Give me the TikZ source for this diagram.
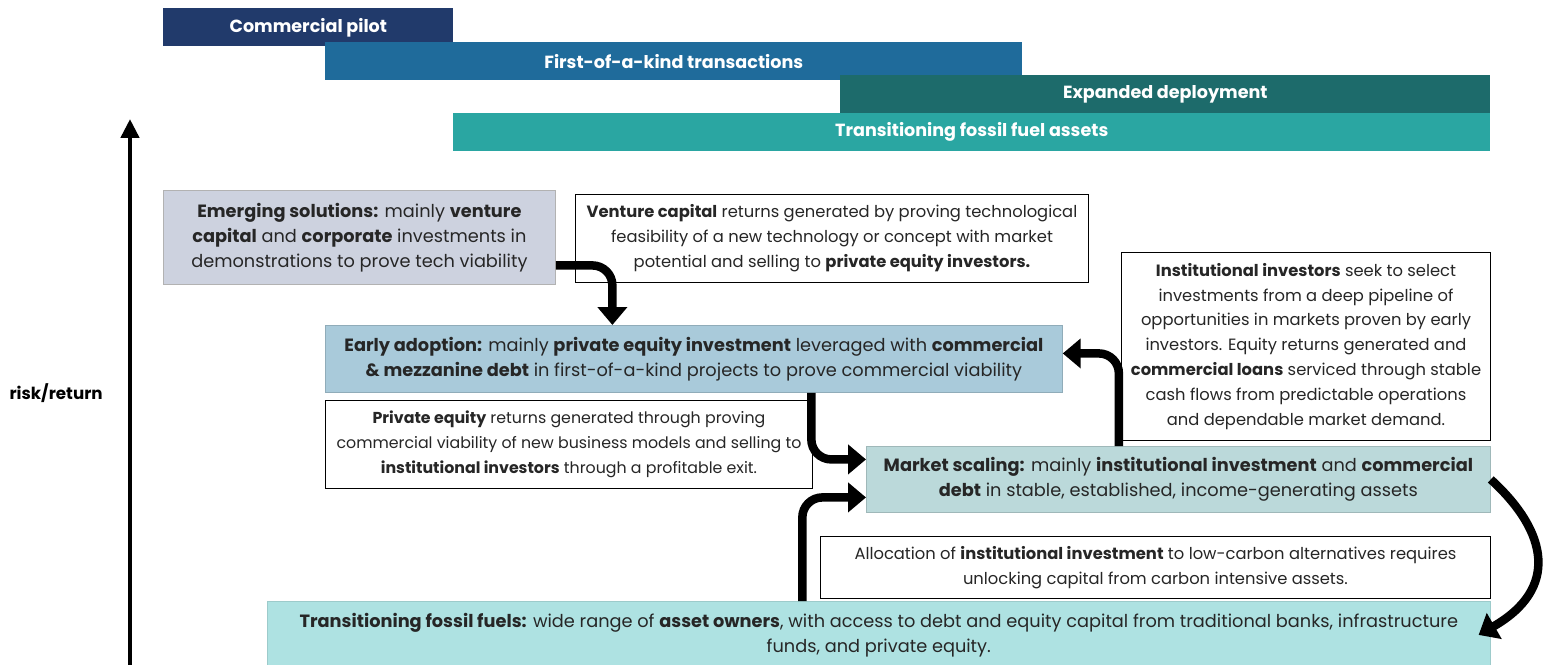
\documentclass[tikz,border=0pt]{standalone}
\usepackage{fontspec}
\setmainfont{Poppins}
\usepackage{tikz}
\usetikzlibrary{arrows.meta,positioning}
\usepackage{xcolor}
\definecolor{pilotblue}{HTML}{213A6B}
\definecolor{foakblue}{HTML}{1F6B9B}
\definecolor{deploygreen}{HTML}{1D6B6B}
\definecolor{fossilteal}{HTML}{2AA6A2}
\definecolor{emergefill}{HTML}{CDD2DF}
\definecolor{earlyfill}{HTML}{A9CADA}
\definecolor{marketfill}{HTML}{BBD9DA}
\definecolor{transfill}{HTML}{AEE2E2}
\tikzset{
  bar/.style={anchor=north west, inner sep=0pt, minimum height=7.6mm, text=white, font=\bfseries\fontsize{10}{12}\selectfont},
  stage/.style={anchor=north west, inner sep=0pt, align=center, line width=0.5pt, text=black!85, font=\fontsize{10.1}{14.2}\selectfont},
  note/.style={anchor=north west, draw=black, fill=white, inner sep=0pt, align=center, line width=0.6pt, text=black!85, font=\fontsize{9.3}{14.2}\selectfont},
  flow/.style={-{Triangle[width=5.8mm,length=3.6mm]}, line width=1.7mm, rounded corners=4mm},
  axis/.style={-{Triangle[width=3.6mm,length=3.8mm]}, line width=0.9mm}
}

\begin{document}
\begin{tikzpicture}[x=0.02cm, y=-0.02cm]
\useasboundingbox (0,0) rectangle (1551,665);
\node[bar, fill=pilotblue, minimum width=5.8cm] (pilot) at (163,8) {Commercial pilot};
\node[bar, fill=foakblue, minimum width=13.94cm] (foak) at (325,42) {First-of-a-kind transactions};
\node[bar, fill=deploygreen, minimum width=13cm] (deploy) at (840,75) {Expanded deployment};
\node[bar, fill=fossilteal, minimum width=20.74cm] (assets) at (453,113) {Transitioning fossil fuel assets};
\node[stage, draw=black!30, fill=emergefill, minimum width=7.84cm, minimum height=1.88cm] (emerging) at (163,190) {\textbf{Emerging solutions:} mainly \textbf{venture}\\ \textbf{capital} and \textbf{corporate} investments in\\ demonstrations to prove tech viability};
\node[note, minimum width=10.26cm, minimum height=1.76cm] (vcnote) at (575,194) {\textbf{Venture capital} returns generated by proving technological\\ feasibility of a new technology or concept with market\\ potential and selling to \textbf{private equity investors.}};
\node[stage, draw=earlyfill!85!black, fill=earlyfill, minimum width=14.74cm, minimum height=1.34cm] (early) at (325,325) {\textbf{Early adoption:} mainly \textbf{private equity investment} leveraged with \textbf{commercial}\\ \textbf{\& mezzanine debt} in first-of-a-kind projects to prove commercial viability};
\node[note, minimum width=9.74cm, minimum height=1.76cm, font=\fontsize{9}{14.2}\selectfont] (penote) at (325,400) {\textbf{Private equity} returns generated through proving\\ commercial viability of new business models and selling to\\ \textbf{institutional investors} through a profitable exit.};
\node[note, minimum width=7.38cm, minimum height=3.76cm] (instnote) at (1121,252) {\textbf{Institutional investors} seek to select\\ investments from a deep pipeline of\\ opportunities in markets proven by early\\ investors. Equity returns generated and\\ \textbf{commercial loans} serviced through stable\\ cash flows from predictable operations\\ and dependable market demand.};
\node[stage, draw=marketfill!85!black, fill=marketfill, minimum width=12.48cm, minimum height=1.32cm] (market) at (866,446) {\textbf{Market scaling:} mainly \textbf{institutional investment} and \textbf{commercial}\\ \textbf{debt} in stable, established, income-generating assets};
\node[note, minimum width=13.4cm, minimum height=1.24cm] (allocnote) at (820,536) {Allocation of \textbf{institutional investment} to low-carbon alternatives requires\\ unlocking capital from carbon intensive assets.};
\node[stage, draw=transfill!90!black, fill=transfill, minimum width=24.46cm, minimum height=1.34cm] (fossil) at (267,601) {\textbf{Transitioning fossil fuels:} wide range of \textbf{asset owners}, with access to debt and equity capital from traditional banks, infrastructure\\ funds, and private equity.};
\coordinate (axisbottom) at (130,668);
\coordinate (axistop) at (130,119);
\node[anchor=east, inner sep=0pt, font=\bfseries\fontsize{9.5}{12}\selectfont] (risk) at (103,393) {risk/return};
\draw[axis] (axisbottom) -- (axistop);
\draw[flow] ([yshift=-0.56cm]emerging.east) -| ([xshift=-1.63cm]early.north);
\draw[flow] ([xshift=2.35cm]early.south) |- ([yshift=0.4cm]market.west);
\draw[flow] ([xshift=-1.53cm]fossil.north) |- ([yshift=-0.36cm]market.west);
\draw[flow] ([xshift=-1.19cm]market.north) |- ([yshift=0.11cm]early.east);
\draw[flow, rounded corners=0pt] (market.east) .. controls +(58,53) and +(80,-46) .. ([xshift=-0.24cm]fossil.east);
\end{tikzpicture}
\end{document}
